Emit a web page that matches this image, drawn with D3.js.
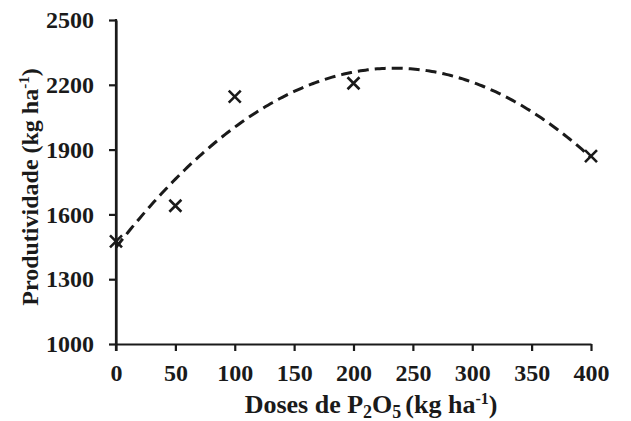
<!DOCTYPE html>
<html>
<head>
<meta charset="utf-8">
<script src="https://cdn.jsdelivr.net/npm/d3@7"></script>
<style>
  html, body { margin: 0; padding: 0; background: #fff; }
  svg { display: block; }
  text { font-family: "Liberation Serif", "Times New Roman", serif; font-weight: bold; fill: #1a1a1a; }
</style>
</head>
<body>
<svg id="chart" width="631" height="421"></svg>
<script>
// ---- data ----
const doses = [0, 50, 100, 200, 400];
const yields = [1475, 1640, 2145, 2207, 1870];
const xTickValues = [0, 50, 100, 150, 200, 250, 300, 350, 400];
const yTickValues = [1000, 1300, 1600, 1900, 2200, 2500];

// ---- layout ----
const svg = d3.select("#chart");
const pLeft = 116, pRight = 591, pTop = 20, pBottom = 344;
const ink = "#1a1a1a";

const x = d3.scaleLinear().domain([0, 400]).range([pLeft, pRight]);
const y = d3.scaleLinear().domain([1000, 2500]).range([pBottom, pTop]);

// quadratic least-squares fit (trend line) from the data
function quadFit(xs, ys) {
  const n = xs.length;
  let S = [0, 0, 0, 0, 0], T = [0, 0, 0];
  for (let i = 0; i < n; i++) {
    for (let k = 0; k < 5; k++) S[k] += Math.pow(xs[i], k);
    for (let k = 0; k < 3; k++) T[k] += ys[i] * Math.pow(xs[i], k);
  }
  const A = [[S[0], S[1], S[2], T[0]], [S[1], S[2], S[3], T[1]], [S[2], S[3], S[4], T[2]]];
  for (let i = 0; i < 3; i++) {
    for (let j = i + 1; j < 3; j++) {
      const f = A[j][i] / A[i][i];
      for (let k = i; k < 4; k++) A[j][k] -= f * A[i][k];
    }
  }
  const c = [0, 0, 0];
  for (let i = 2; i >= 0; i--) {
    let s = A[i][3];
    for (let k = i + 1; k < 3; k++) s -= A[i][k] * c[k];
    c[i] = s / A[i][i];
  }
  return c;
}
const coef = quadFit(doses, yields);
const fitPts = d3.range(0, 401, 2).map(d => [d, coef[0] + coef[1] * d + coef[2] * d * d]);

// trend line
svg.append("path")
  .datum(fitPts)
  .attr("fill", "none")
  .attr("stroke", ink)
  .attr("stroke-width", 3)
  .attr("stroke-dasharray", "11,6")
  .attr("d", d3.line().x(d => x(d[0])).y(d => y(d[1])));

// axes
const fmt = d3.format("d");
const xAxis = svg.append("g")
  .attr("transform", `translate(0,${pBottom})`)
  .call(d3.axisBottom(x).tickValues(xTickValues).tickFormat(fmt).tickSize(7).tickPadding(13).tickSizeOuter(0));
const yAxis = svg.append("g")
  .attr("transform", `translate(${pLeft},0)`)
  .call(d3.axisLeft(y).tickValues(yTickValues).tickFormat(fmt).tickSize(7).tickPadding(15).tickSizeOuter(0));

[xAxis, yAxis].forEach(g => {
  g.select(".domain").attr("stroke", ink).attr("stroke-width", 2.2);
  g.selectAll(".tick line").attr("stroke", ink).attr("stroke-width", 2.2);
  g.selectAll(".tick text").attr("fill", ink).style("font-size", "24px")
    .style("font-family", "'Liberation Serif', 'Times New Roman', serif").style("font-weight", "bold");
});
svg.append("line").attr("x1", pLeft).attr("x2", pLeft).attr("y1", pTop - 1).attr("y2", pBottom + 7)
  .attr("stroke", ink).attr("stroke-width", 2.2);

// markers (x shape)
const m = 6;
const marks = svg.append("g");
doses.forEach((d, i) => {
  const cx = x(d), cy = y(yields[i]);
  marks.append("path")
    .attr("d", `M${cx - m},${cy - m}L${cx + m},${cy + m}M${cx - m},${cy + m}L${cx + m},${cy - m}`)
    .attr("stroke", ink).attr("stroke-width", 2.6).attr("fill", "none");
});

// axis titles
const xt = svg.append("text")
  .attr("x", 371).attr("y", 413)
  .attr("text-anchor", "middle")
  .style("font-size", "26px");
xt.append("tspan").text("Doses de P");
xt.append("tspan").text("2").attr("dy", 5).style("font-size", "18px");
xt.append("tspan").text("O").attr("dy", -5);
xt.append("tspan").text("5").attr("dy", 5).style("font-size", "18px");
xt.append("tspan").text("(kg ha").attr("dy", -5).attr("dx", 4);
xt.append("tspan").text("-1").attr("dy", -9).style("font-size", "16px");
xt.append("tspan").text(")").attr("dy", 9);

const yt = svg.append("text")
  .attr("transform", "translate(38,187) rotate(-90)")
  .attr("text-anchor", "middle")
  .style("font-size", "24px");
yt.append("tspan").text("Produtividade (kg ha");
yt.append("tspan").text("-1").attr("dy", -9).style("font-size", "15px");
yt.append("tspan").text(")").attr("dy", 9);
</script>
</body>
</html>
